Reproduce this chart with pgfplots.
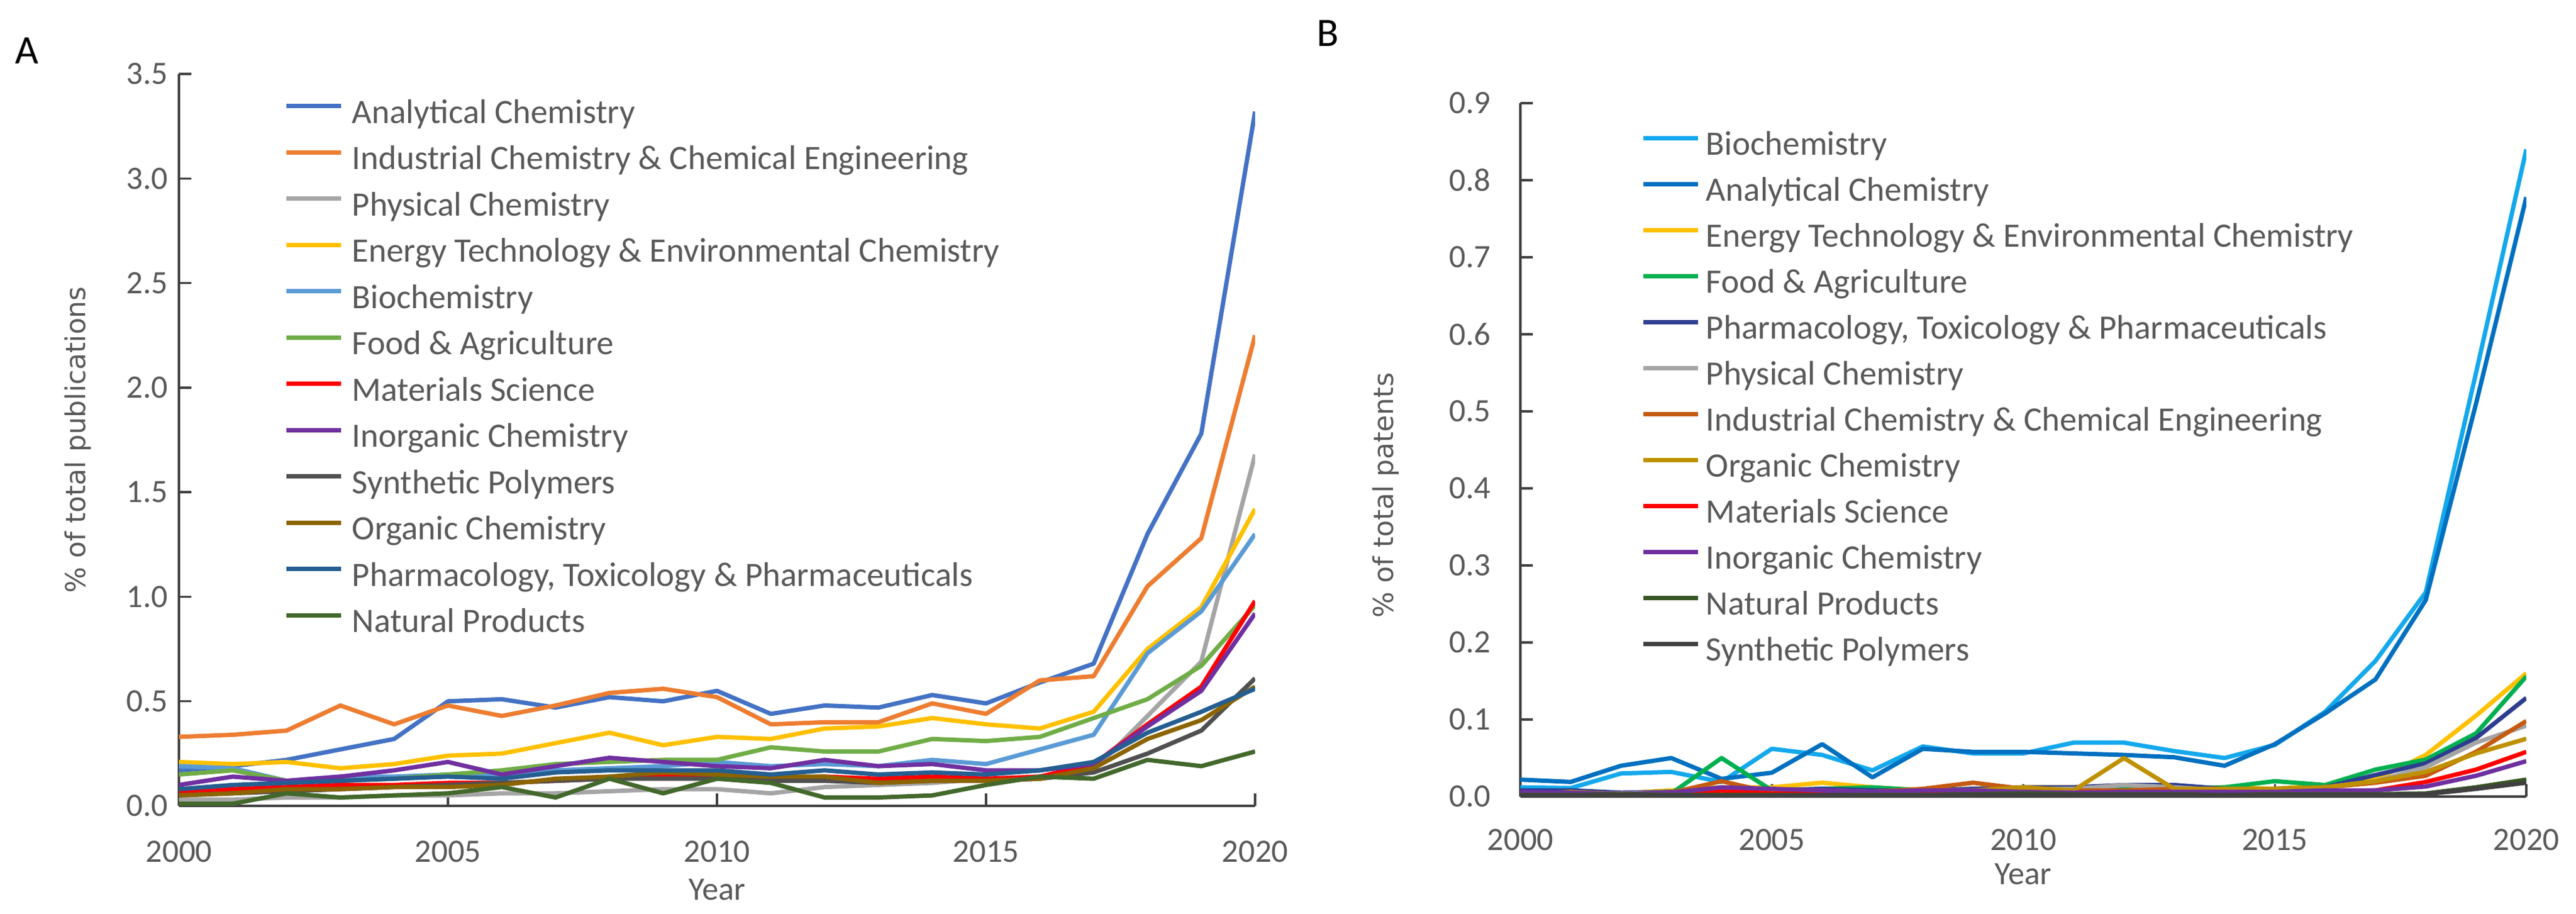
\documentclass[border=0pt]{standalone}
\usepackage{fontspec}
\setmainfont{Carlito}
\newfontfamily\dejavu{DejaVu Sans}
\usepackage{pgfplots}
\usepackage{pgfplotstable}
\pgfplotsset{compat=1.18}

\definecolor{txtgray}{HTML}{595959}
\definecolor{axgray}{HTML}{404040}
% panel A colours
\definecolor{aAnal}{HTML}{4472C4}
\definecolor{aIndus}{HTML}{ED7D31}
\definecolor{aPhys}{HTML}{A5A5A5}
\definecolor{aEnergy}{HTML}{FFC000}
\definecolor{aBio}{HTML}{5B9BD5}
\definecolor{aFood}{HTML}{70AD47}
\definecolor{aMat}{HTML}{FF0000}
\definecolor{aInorg}{HTML}{7030A0}
\definecolor{aSynth}{HTML}{505050}
\definecolor{aOrg}{HTML}{8C6400}
\definecolor{aPharm}{HTML}{255E91}
\definecolor{aNat}{HTML}{43682B}
% panel B colours
\definecolor{bBio}{HTML}{14A8EC}
\definecolor{bAnal}{HTML}{0070C0}
\definecolor{bEnergy}{HTML}{FFC000}
\definecolor{bFood}{HTML}{00B050}
\definecolor{bPharm}{HTML}{2E3D8F}
\definecolor{bPhys}{HTML}{A5A5A5}
\definecolor{bIndus}{HTML}{C55A11}
\definecolor{bOrg}{HTML}{BF9000}
\definecolor{bMat}{HTML}{FF0000}
\definecolor{bInorg}{HTML}{7030A0}
\definecolor{bNat}{HTML}{375623}
\definecolor{bSynth}{HTML}{404040}

% % of total publications
\pgfplotstableread{
year Anal Indus Phys Energy Bio Food Mat Inorg Synth Org Pharm Nat
2000 0.17 0.33 0.03 0.21 0.19 0.15 0.07 0.10 0.05 0.05 0.08 0.01
2001 0.19 0.34 0.03 0.20 0.18 0.17 0.08 0.14 0.06 0.06 0.10 0.01
2002 0.22 0.36 0.04 0.21 0.12 0.12 0.09 0.12 0.07 0.08 0.11 0.06
2003 0.27 0.48 0.04 0.18 0.14 0.12 0.10 0.14 0.08 0.08 0.12 0.04
2004 0.32 0.39 0.05 0.20 0.14 0.13 0.10 0.17 0.09 0.09 0.13 0.05
2005 0.50 0.48 0.05 0.24 0.15 0.15 0.11 0.21 0.10 0.09 0.14 0.06
2006 0.51 0.43 0.06 0.25 0.15 0.17 0.11 0.15 0.11 0.10 0.13 0.09
2007 0.47 0.48 0.06 0.30 0.17 0.20 0.12 0.19 0.12 0.13 0.16 0.04
2008 0.52 0.54 0.07 0.35 0.18 0.21 0.13 0.23 0.13 0.14 0.17 0.13
2009 0.50 0.56 0.08 0.29 0.19 0.22 0.14 0.21 0.13 0.16 0.17 0.06
2010 0.55 0.52 0.08 0.33 0.21 0.22 0.14 0.19 0.13 0.15 0.17 0.13
2011 0.44 0.39 0.06 0.32 0.19 0.28 0.13 0.18 0.12 0.14 0.15 0.11
2012 0.48 0.40 0.09 0.37 0.20 0.26 0.14 0.22 0.12 0.14 0.17 0.04
2013 0.47 0.40 0.10 0.38 0.19 0.26 0.13 0.19 0.11 0.11 0.15 0.04
2014 0.53 0.49 0.11 0.42 0.22 0.32 0.14 0.20 0.12 0.12 0.16 0.05
2015 0.49 0.44 0.13 0.39 0.20 0.31 0.13 0.17 0.12 0.12 0.15 0.10
2016 0.59 0.60 0.13 0.37 0.27 0.33 0.14 0.17 0.13 0.13 0.17 0.14
2017 0.68 0.62 0.17 0.45 0.34 0.42 0.20 0.20 0.16 0.18 0.21 0.13
2018 1.30 1.05 0.43 0.75 0.73 0.51 0.39 0.38 0.25 0.32 0.35 0.22
2019 1.78 1.28 0.69 0.95 0.93 0.67 0.57 0.55 0.36 0.41 0.45 0.19
2020 3.32 2.25 1.68 1.42 1.30 0.96 0.98 0.92 0.61 0.57 0.56 0.26
}\tabA

% % of total patents
\pgfplotstableread{
year Bio Anal Energy Food Pharm Phys Indus Org Mat Inorg Nat Synth
2000 0.012 0.022 0.005 0.003 0.008 0.004 0.002 0.003 0.003 0.006 0.002 0.001
2001 0.011 0.019 0.007 0.003 0.008 0.004 0.003 0.006 0.003 0.005 0.002 0.001
2002 0.030 0.040 0.004 0.003 0.005 0.004 0.003 0.003 0.003 0.003 0.003 0.002
2003 0.032 0.050 0.008 0.004 0.006 0.005 0.005 0.004 0.003 0.005 0.002 0.001
2004 0.019 0.023 0.012 0.050 0.010 0.008 0.020 0.006 0.008 0.012 0.002 0.001
2005 0.062 0.031 0.012 0.008 0.008 0.006 0.005 0.006 0.004 0.010 0.002 0.001
2006 0.054 0.068 0.018 0.010 0.010 0.008 0.006 0.006 0.005 0.008 0.002 0.002
2007 0.034 0.025 0.012 0.012 0.008 0.006 0.006 0.006 0.004 0.006 0.002 0.001
2008 0.065 0.062 0.008 0.008 0.008 0.008 0.010 0.006 0.005 0.008 0.002 0.001
2009 0.056 0.058 0.010 0.008 0.010 0.008 0.018 0.008 0.005 0.008 0.003 0.002
2010 0.056 0.058 0.012 0.010 0.012 0.010 0.010 0.012 0.006 0.006 0.004 0.002
2011 0.070 0.056 0.012 0.008 0.012 0.010 0.008 0.008 0.004 0.005 0.003 0.002
2012 0.070 0.054 0.010 0.010 0.015 0.015 0.008 0.050 0.006 0.006 0.003 0.002
2013 0.059 0.051 0.010 0.010 0.015 0.012 0.010 0.010 0.005 0.006 0.003 0.002
2014 0.050 0.040 0.012 0.012 0.010 0.008 0.010 0.010 0.005 0.006 0.002 0.002
2015 0.067 0.068 0.010 0.020 0.010 0.010 0.010 0.010 0.006 0.006 0.003 0.002
2016 0.110 0.108 0.015 0.015 0.012 0.012 0.012 0.012 0.006 0.008 0.003 0.002
2017 0.176 0.152 0.022 0.035 0.028 0.020 0.018 0.020 0.008 0.008 0.003 0.002
2018 0.265 0.255 0.054 0.048 0.043 0.038 0.027 0.032 0.019 0.013 0.004 0.003
2019 0.550 0.510 0.105 0.082 0.076 0.070 0.058 0.056 0.035 0.027 0.012 0.010
2020 0.840 0.778 0.160 0.156 0.128 0.092 0.098 0.075 0.058 0.046 0.022 0.018
}\tabB

\pgfplotsset{
  chem/.style={
    scale only axis,
    no markers,
    axis x line=bottom, axis y line=left,
    axis line style={-, axgray, line width=0.7pt},
    tick style={axgray, line width=0.7pt},
    tick align=inside,
    major tick length=4pt,
    xmin=2000, xmax=2020, xtick={2000,2005,...,2020},
    ymin=0,
    /pgf/number format/assume math mode=true,
    ticklabel style={font=\fontsize{10.5}{12}\selectfont, text=txtgray},
    xticklabel style={/pgf/number format/1000 sep={}, yshift=-7.8pt},
    yticklabel style={/pgf/number format/fixed, /pgf/number format/fixed zerofill,
      /pgf/number format/precision=1},
    xlabel={Year},
    xlabel style={font=\fontsize{10.5}{12}\selectfont, text=txtgray, anchor=center},
    ylabel style={font=\dejavu\fontsize{8.8}{10}\selectfont, text=txtgray, anchor=center},
    legend cell align=left,
    legend image code/.code={\draw[##1] (0pt,3pt) -- (17.6pt,3pt);},
    every axis plot/.append style={line width=1.4pt, line join=round},
  }
}

\begin{document}
\begin{tikzpicture}
\path[use as bounding box] (0,0) rectangle (829.2pt,294.2pt);

\node[font=\fontsize{13}{15}\selectfont] at (8.6pt,277.8pt) {A};
\node[font=\fontsize{13}{15}\selectfont] at (427.4pt,283.4pt) {B};

\begin{axis}[chem,
  at={(57.6pt,34.8pt)}, anchor=south west,
  width=346.4pt, height=235.6pt,
  ymax=3.5, ytick={0,0.5,...,3.5},
  ylabel={\% of total publications},
  xlabel style={at={(axis description cs:0.5,-0.1146)}},
  ylabel style={at={(axis description cs:-0.0941,0.5)}},
  legend style={at={(axis description cs:0.098,0.9626)}, anchor=north west,
    draw=none, fill=none, inner sep=0pt, outer sep=0pt,
    row sep=5.9pt, column sep=2.8pt,
    font=\fontsize{11}{13}\selectfont, text=txtgray,
    nodes={inner sep=0pt, text height=7pt, text depth=2pt}},
]
\addplot[aAnal]   table[x=year,y=Anal]   {\tabA}; \addlegendentry{Analytical Chemistry}
\addplot[aIndus]  table[x=year,y=Indus]  {\tabA}; \addlegendentry{Industrial Chemistry \& Chemical Engineering}
\addplot[aPhys]   table[x=year,y=Phys]   {\tabA}; \addlegendentry{Physical Chemistry}
\addplot[aEnergy] table[x=year,y=Energy] {\tabA}; \addlegendentry{Energy Technology \& Environmental Chemistry}
\addplot[aBio]    table[x=year,y=Bio]    {\tabA}; \addlegendentry{Biochemistry}
\addplot[aFood]   table[x=year,y=Food]   {\tabA}; \addlegendentry{Food \& Agriculture}
\addplot[aMat]    table[x=year,y=Mat]    {\tabA}; \addlegendentry{Materials Science}
\addplot[aInorg]  table[x=year,y=Inorg]  {\tabA}; \addlegendentry{Inorganic Chemistry}
\addplot[aSynth]  table[x=year,y=Synth]  {\tabA}; \addlegendentry{Synthetic Polymers}
\addplot[aOrg]    table[x=year,y=Org]    {\tabA}; \addlegendentry{Organic Chemistry}
\addplot[aPharm]  table[x=year,y=Pharm]  {\tabA}; \addlegendentry{Pharmacology, Toxicology \& Pharmaceuticals}
\addplot[aNat]    table[x=year,y=Nat]    {\tabA}; \addlegendentry{Natural Products}
\end{axis}

\begin{axis}[chem,
  at={(489.4pt,37.8pt)}, anchor=south west,
  width=323.8pt, height=223.2pt,
  ymax=0.9, ytick={0,0.1,...,0.9},
  ylabel={\% of total patents},
  yticklabel style={xshift=-6pt},
  xticklabel style={yshift=0.8pt},
  xlabel style={at={(axis description cs:0.5,-0.112)}},
  ylabel style={at={(axis description cs:-0.134,0.4346)}},
  legend style={at={(axis description cs:0.1204,0.9565)}, anchor=north west,
    draw=none, fill=none, inner sep=0pt, outer sep=0pt,
    row sep=5.8pt, column sep=1.8pt,
    font=\fontsize{11}{13}\selectfont, text=txtgray,
    nodes={inner sep=0pt, text height=7pt, text depth=2pt}},
]
\addplot[bBio]    table[x=year,y=Bio]    {\tabB}; \addlegendentry{Biochemistry}
\addplot[bAnal]   table[x=year,y=Anal]   {\tabB}; \addlegendentry{Analytical Chemistry}
\addplot[bEnergy] table[x=year,y=Energy] {\tabB}; \addlegendentry{Energy Technology \& Environmental Chemistry}
\addplot[bFood]   table[x=year,y=Food]   {\tabB}; \addlegendentry{Food \& Agriculture}
\addplot[bPharm]  table[x=year,y=Pharm]  {\tabB}; \addlegendentry{Pharmacology, Toxicology \& Pharmaceuticals}
\addplot[bPhys]   table[x=year,y=Phys]   {\tabB}; \addlegendentry{Physical Chemistry}
\addplot[bIndus]  table[x=year,y=Indus]  {\tabB}; \addlegendentry{Industrial Chemistry \& Chemical Engineering}
\addplot[bOrg]    table[x=year,y=Org]    {\tabB}; \addlegendentry{Organic Chemistry}
\addplot[bMat]    table[x=year,y=Mat]    {\tabB}; \addlegendentry{Materials Science}
\addplot[bInorg]  table[x=year,y=Inorg]  {\tabB}; \addlegendentry{Inorganic Chemistry}
\addplot[bNat]    table[x=year,y=Nat]    {\tabB}; \addlegendentry{Natural Products}
\addplot[bSynth]  table[x=year,y=Synth]  {\tabB}; \addlegendentry{Synthetic Polymers}
\end{axis}
\end{tikzpicture}
\end{document}
